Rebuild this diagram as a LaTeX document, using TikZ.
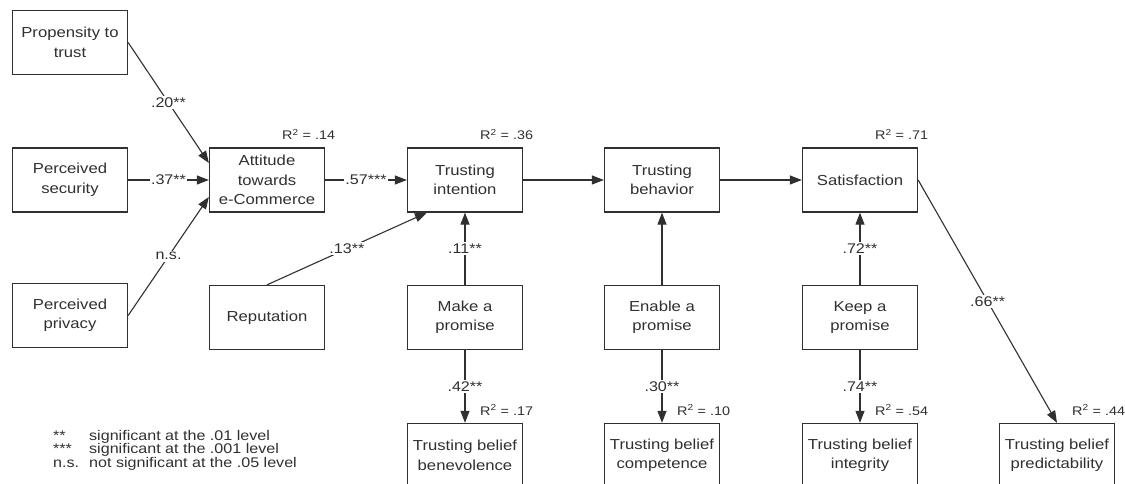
\documentclass[tikz,border=0pt]{standalone}
\usepackage{fontspec}
\setmainfont{Liberation Sans}[FakeStretch=1.15]
\usepackage{tikz}
\usetikzlibrary{arrows.meta}
\usetikzlibrary{positioning,calc}
\definecolor{ink}{HTML}{303030}

\begin{document}
\begin{tikzpicture}[x=1pt,y=1pt]
\tikzstyle{every node}+=[text=ink,font=\fontsize{14.5}{19.5}\selectfont]
\tikzstyle{box}=[draw=ink,line width=1.3pt,minimum width=115pt,minimum height=64pt,align=center,inner sep=2pt]
\tikzstyle{link}=[draw=ink,line width=1.1pt,-{Triangle[length=12pt,width=9pt]}]
\tikzstyle{coef}=[midway,fill=white,inner sep=1.5pt,font=\fontsize{14}{16}\selectfont]
\tikzstyle{rsq}=[anchor=west,inner sep=0pt,font=\fontsize{12.5}{14}\selectfont]
\useasboundingbox (0,0) rectangle (1125,484);
% antecedents
\node [box] (prop) at (70,441.5) {Propensity to\\trust};
\node [box] (sec) at (70,304) {Perceived\\security};
\node [box] (priv) at (70,168.5) {Perceived\\privacy};
% main chain
\node [box] (att) at (267,304) {Attitude\\towards\\e-Commerce};
\node [box] (int) at (465,304) {Trusting\\intention};
\node [box] (beh) at (662,304) {Trusting\\behavior};
\node [box] (sat) at (860,304) {Satisfaction};
% promises
\node [box] (rep) at (267,166.5) {Reputation};
\node [box] (make) at (465,166.5) {Make a\\promise};
\node [box] (enab) at (662,166.5) {Enable a\\promise};
\node [box] (keep) at (860,166.5) {Keep a\\promise};
% trusting beliefs
\node [box] (ben) at (465,28.5) {Trusting belief\\benevolence};
\node [box] (comp) at (662,28.5) {Trusting belief\\competence};
\node [box] (integ) at (860,28.5) {Trusting belief\\integrity};
\node [box] (pred) at (1057,28.5) {Trusting belief\\predictability};
% R^2
\node [rsq] (r_att) at ($(att.north)+(15,13)$) {R\textsuperscript{2} = .14};
\node [rsq] (r_int) at ($(int.north)+(15,13)$) {R\textsuperscript{2} = .36};
\node [rsq] (r_sat) at ($(sat.north)+(15,13)$) {R\textsuperscript{2} = .71};
\node [rsq] (r_ben) at ($(ben.north)+(15,13)$) {R\textsuperscript{2} = .17};
\node [rsq] (r_comp) at ($(comp.north)+(15,13)$) {R\textsuperscript{2} = .10};
\node [rsq] (r_integ) at ($(integ.north)+(15,13)$) {R\textsuperscript{2} = .54};
\node [rsq] (r_pred) at ($(pred.north)+(15,13)$) {R\textsuperscript{2} = .44};
% paths
\draw [link] (prop.east) -- ($(att.west)+(0,17)$) node [coef] {.20**};
\draw [link] (sec.east) -- (att.west) node [coef] {.37**};
\draw [link] (priv.east) -- ($(att.west)+(0,-17)$) node [coef] {n.s.};
\draw [link] (att.east) -- (int.west) node [coef] {.57***};
\draw [link] (rep.north) -- ($(int.south west)+(20,0)$) node [coef] {.13**};
\draw [link] (int.east) -- (beh.west);
\draw [link] (beh.east) -- (sat.west);
\draw [link] (make.north) -- (int.south) node [coef] {.11**};
\draw [link] (enab.north) -- (beh.south);
\draw [link] (keep.north) -- (sat.south) node [coef] {.72**};
\draw [link] (make.south) -- (ben.north) node [coef] {.42**};
\draw [link] (enab.south) -- (comp.north) node [coef] {.30**};
\draw [link] (keep.south) -- (integ.north) node [coef] {.74**};
\draw [link] (sat.east) -- (pred.north) node [coef] {.66**};
% legend
\node [anchor=north west,align=left,inner sep=0pt,font=\fontsize{14}{13.5}\selectfont] (legend) at (53,54)
  {\makebox[36pt][l]{**}significant at the .01 level\\
   \makebox[36pt][l]{***}significant at the .001 level\\
   \makebox[36pt][l]{n.s.}not significant at the .05 level};
\end{tikzpicture}
\end{document}
